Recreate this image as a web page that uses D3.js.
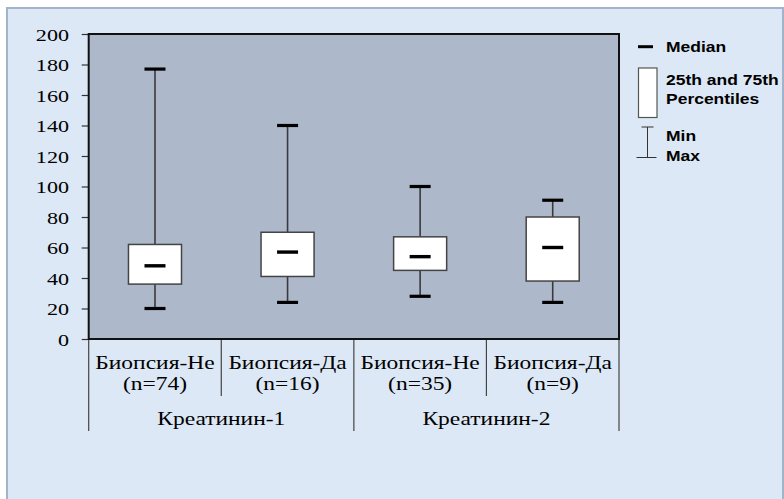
<!DOCTYPE html>
<html>
<head>
<meta charset="utf-8">
<script src="https://cdn.jsdelivr.net/npm/d3@7/dist/d3.min.js"></script>
<style>
  html, body { margin: 0; padding: 0; background: #ffffff; }
  svg { display: block; }
</style>
</head>
<body>
<svg id="chart" width="784" height="499"></svg>
<script>
// Box-plot data: creatinine by biopsy outcome
const categories = ["Биопсия-Не", "Биопсия-Да", "Биопсия-Не", "Биопсия-Да"];
const counts = ["(n=74)", "(n=16)", "(n=35)", "(n=9)"];
const groups = ["Креатинин-1", "Креатинин-2"];
const minVals = [20, 24, 28, 24];
const q1Vals = [36, 41, 45, 38];
const medianVals = [48, 57, 54, 60];
const q3Vals = [62, 70, 67, 80];
const maxVals = [177, 140, 100, 91];
const yTicks = [0, 20, 40, 60, 80, 100, 120, 140, 160, 180, 200];
const legendLabels = ["Median", "25th and 75th", "Percentiles", "Min", "Max"];

const svg = d3.select("#chart");
const serif = "'Liberation Serif', 'Times New Roman', serif";
const sans = "'Liberation Sans', Arial, sans-serif";

// Outer panel
svg.append("rect")
  .attr("x", 7).attr("y", 8).attr("width", 776).attr("height", 500)
  .attr("fill", "#dce8f5").attr("stroke", "#a2b4cb").attr("stroke-width", 2);

const plot = { left: 88.7, right: 619, top: 34, bottom: 339 };

const x = d3.scaleBand()
  .domain(d3.range(categories.length))
  .range([plot.left, plot.right])
  .padding(0);
const y = d3.scaleLinear().domain([0, 200]).range([plot.bottom, plot.top]);

// Wide-set text helper (glyphs stretched horizontally)
function wideText(parent, tx, ty, str, opts) {
  const g = parent.append("g")
    .attr("transform", `translate(${tx},${ty}) scale(${opts.sx},1)`);
  g.append("text")
    .attr("x", 0).attr("y", 0)
    .attr("text-anchor", opts.anchor || "start")
    .attr("font-family", opts.family)
    .attr("font-size", opts.size)
    .attr("font-weight", opts.weight || "normal")
    .attr("fill", "#000")
    .text(str);
  return g;
}

// Plot background
svg.append("rect")
  .attr("x", plot.left).attr("y", plot.top)
  .attr("width", plot.right - plot.left).attr("height", plot.bottom - plot.top)
  .attr("fill", "#adb8cb");

// Y axis ticks
const yAxis = d3.axisLeft(y).tickValues(yTicks).tickSize(7).tickFormat("");
const yg = svg.append("g").attr("transform", `translate(${plot.left},0)`).call(yAxis);
yg.select(".domain").remove();
yg.selectAll(".tick line").attr("stroke", "#333").attr("stroke-width", 1.2);
yTicks.forEach(t => {
  wideText(svg, 69, y(t) + 6.8, String(t),
    { sx: 1.3, anchor: "end", family: serif, size: 17 });
});

// Category dividers below the axis
const bandEdges = d3.range(categories.length + 1).map(i =>
  i < categories.length ? x(i) : x(categories.length - 1) + x.bandwidth());
const divG = svg.append("g").attr("stroke", "#444").attr("stroke-width", 1.2);
bandEdges.forEach((bx, i) => {
  const isGroupEdge = i % 2 === 0;
  divG.append("line")
    .attr("x1", bx).attr("x2", bx)
    .attr("y1", plot.bottom).attr("y2", isGroupEdge ? 431 : 396);
});

// Category labels
categories.forEach((c, i) => {
  const cx = x(i) + x.bandwidth() / 2;
  wideText(svg, cx, 369, c, { sx: 1.27, anchor: "middle", family: serif, size: 18.5 });
  wideText(svg, cx, 390, counts[i], { sx: 1.27, anchor: "middle", family: serif, size: 18.5 });
});
groups.forEach((gname, gi) => {
  const cx = (x(gi * 2) + x(gi * 2 + 1) + x.bandwidth()) / 2;
  wideText(svg, cx, 425, gname, { sx: 1.27, anchor: "middle", family: serif, size: 18.5 });
});

// Boxes
const boxW = x.bandwidth() * 0.4;
const capW = 21;
const boxes = svg.append("g");
categories.forEach((c, i) => {
  const cx = x(i) + x.bandwidth() / 2;
  // whiskers
  boxes.append("line")
    .attr("x1", cx).attr("x2", cx)
    .attr("y1", y(q3Vals[i])).attr("y2", y(maxVals[i]))
    .attr("stroke", "#3a3a3a").attr("stroke-width", 1.6);
  boxes.append("line")
    .attr("x1", cx).attr("x2", cx)
    .attr("y1", y(q1Vals[i])).attr("y2", y(minVals[i]))
    .attr("stroke", "#3a3a3a").attr("stroke-width", 1.6);
  // caps
  [minVals[i], maxVals[i]].forEach(v => {
    boxes.append("line")
      .attr("x1", cx - capW / 2).attr("x2", cx + capW / 2)
      .attr("y1", y(v)).attr("y2", y(v))
      .attr("stroke", "#000").attr("stroke-width", 3.2);
  });
  // interquartile box
  boxes.append("rect")
    .attr("x", cx - boxW / 2).attr("y", y(q3Vals[i]))
    .attr("width", boxW).attr("height", y(q1Vals[i]) - y(q3Vals[i]))
    .attr("fill", "#ffffff").attr("stroke", "#444").attr("stroke-width", 1.5);
  // median
  boxes.append("line")
    .attr("x1", cx - capW / 2).attr("x2", cx + capW / 2)
    .attr("y1", y(medianVals[i])).attr("y2", y(medianVals[i]))
    .attr("stroke", "#000").attr("stroke-width", 3.4);
});

// Plot frame
svg.append("rect")
  .attr("x", plot.left).attr("y", plot.top)
  .attr("width", plot.right - plot.left).attr("height", plot.bottom - plot.top)
  .attr("fill", "none").attr("stroke", "#111").attr("stroke-width", 2);

// Legend
const lg = svg.append("g");
lg.append("line").attr("x1", 638).attr("x2", 653).attr("y1", 46.7).attr("y2", 46.7)
  .attr("stroke", "#000").attr("stroke-width", 3);
lg.append("rect").attr("x", 638.5).attr("y", 68).attr("width", 18.5).attr("height", 49.5)
  .attr("fill", "#fff").attr("stroke", "#555").attr("stroke-width", 1.2);
lg.append("line").attr("x1", 641.5).attr("x2", 653.5).attr("y1", 127).attr("y2", 127)
  .attr("stroke", "#333").attr("stroke-width", 1);
lg.append("line").attr("x1", 647.5).attr("x2", 647.5).attr("y1", 127).attr("y2", 157.5)
  .attr("stroke", "#333").attr("stroke-width", 1);
lg.append("line").attr("x1", 636.5).attr("x2", 656.5).attr("y1", 157.5).attr("y2", 157.5)
  .attr("stroke", "#333").attr("stroke-width", 1);
const legendY = [52, 85, 104, 141, 161];
legendLabels.forEach((t, i) => {
  wideText(lg, 666, legendY[i], t, { sx: 1.25, family: sans, size: 14, weight: "bold" });
});
</script>
</body>
</html>
